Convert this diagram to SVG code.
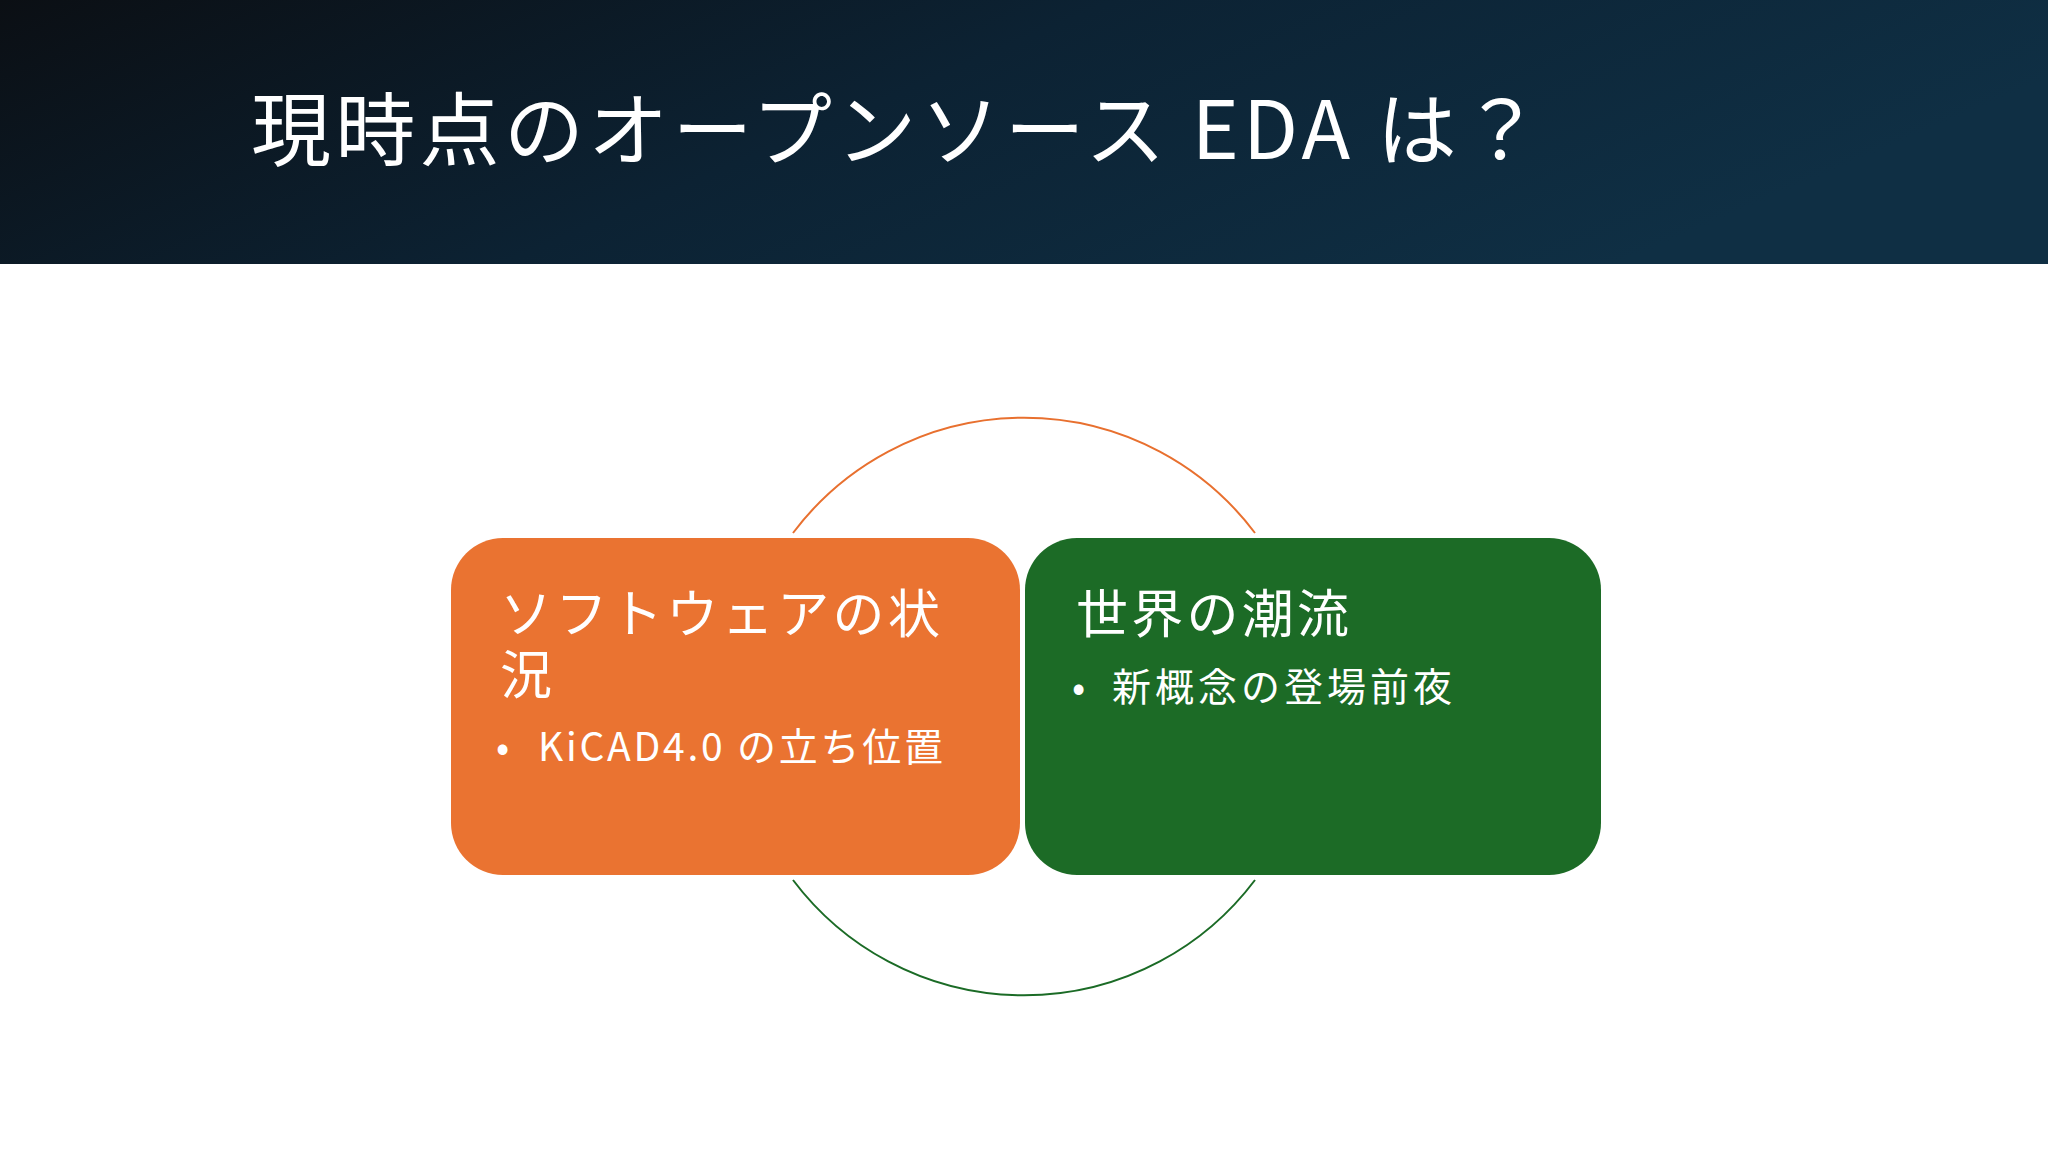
<svg xmlns="http://www.w3.org/2000/svg" width="2048" height="1152" viewBox="0 0 2048 1152">
<defs>
<linearGradient id="hg" x1="0" y1="0" x2="1" y2="0.3">
<stop offset="0" stop-color="#0b0f14"/><stop offset="0.5" stop-color="#0c2233"/><stop offset="1" stop-color="#0f2f44"/>
</linearGradient>
<style>
text{font-family:"Noto Sans CJK JP","Noto Sans",sans-serif;fill:#fff}
.h{font-size:52px}.b{font-size:39px}
</style>
</defs>
<rect width="2048" height="1152" fill="#fff"/>
<rect width="2048" height="264" fill="url(#hg)"/>
<text x="251" y="159" font-size="80" textLength="1290" lengthAdjust="spacing">現時点のオープンソース EDA は？</text>
<g id="connectors" fill="none" stroke-width="2">
<path d="M793 533 A289 289 0 0 1 1255 533" stroke="#e8702f"/>
<path d="M793 880 A289 289 0 0 0 1255 880" stroke="#1b6b26"/>
</g>
<g id="software">
<rect x="451" y="538" width="569" height="337" rx="52" fill="#ea7331"/>
<text class="h" x="500" y="633" textLength="440" lengthAdjust="spacing">ソフトウェアの状</text>
<text class="h" x="500" y="694">況</text>
<text class="b" x="496" y="761">•</text>
<text class="b" x="538" y="761" textLength="405" lengthAdjust="spacing">KiCAD4.0 の立ち位置</text>
</g>
<g id="world">
<rect x="1025" y="538" width="576" height="337" rx="52" fill="#1c6b26"/>
<text class="h" x="1076" y="633" textLength="273" lengthAdjust="spacing">世界の潮流</text>
<text class="b" x="1072" y="701">•</text>
<text class="b" x="1112" y="701" textLength="340" lengthAdjust="spacing">新概念の登場前夜</text>
</g>
</svg>
